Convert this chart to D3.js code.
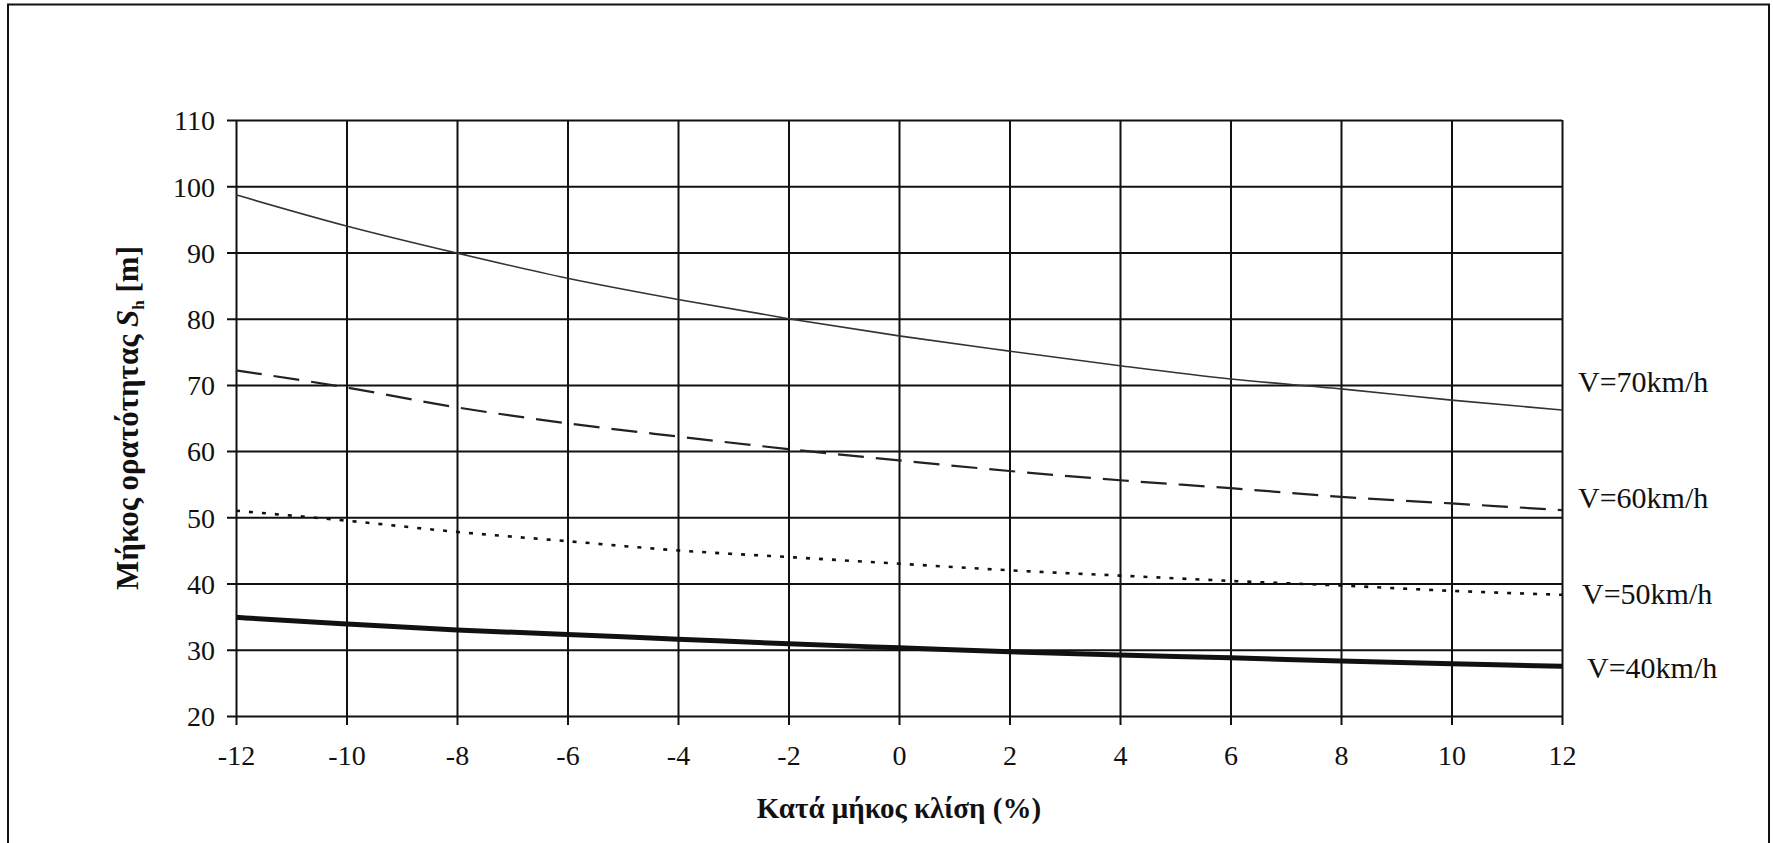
<!DOCTYPE html>
<html>
<head>
<meta charset="utf-8">
<script src="https://cdn.jsdelivr.net/npm/d3@7"></script>
<style>
    html, body { margin: 0; padding: 0; background: #fff; }
    svg { display: block; }
    text { font-family: 'Liberation Serif', 'Times New Roman', serif; fill: #111; }
</style>
</head>
<body>
<div id="chart"></div>
<script>
// Grade (%) and sight distance values
const grades = [-12, -10, -8, -6, -4, -2, 0, 2, 4, 6, 8, 10, 12];
const v70 = [98.7, 94.0, 89.9, 86.1, 82.9, 80.0, 77.4, 75.1, 72.9, 70.9, 69.4, 67.7, 66.2];
const v60 = [72.2, 69.6, 66.6, 64.2, 62.2, 60.3, 58.6, 57.0, 55.6, 54.4, 53.1, 52.1, 51.1];
const v50 = [51.0, 49.5, 47.8, 46.4, 45.0, 44.0, 43.0, 42.0, 41.2, 40.4, 39.7, 38.9, 38.3];
const v40 = [34.9, 33.9, 33.0, 32.3, 31.6, 30.9, 30.3, 29.7, 29.2, 28.8, 28.3, 27.9, 27.5];
const yTicks = [20, 30, 40, 50, 60, 70, 80, 90, 100, 110];
const seriesLabels = ['V=70km/h', 'V=60km/h', 'V=50km/h', 'V=40km/h'];

function renderChart() {
    const width = 1773;
    const height = 843;
    const margin = { top: 120, right: 211, bottom: 127, left: 236 };
    const innerWidth = width - margin.left - margin.right;
    const innerHeight = height - margin.top - margin.bottom;

    const svg = d3.select('#chart')
        .append('svg')
        .attr('width', width)
        .attr('height', height);

    // Outer frame (bottom edge is cut off in the original)
    svg.append('rect')
        .attr('x', 8)
        .attr('y', 4.5)
        .attr('width', 1761)
        .attr('height', 900)
        .attr('fill', 'none')
        .attr('stroke', '#111')
        .attr('stroke-width', 2);

    const g = svg.append('g')
        .attr('transform', `translate(${margin.left}, ${margin.top})`);

    const xScale = d3.scaleLinear()
        .domain([-12, 12])
        .range([0, innerWidth]);

    const yScale = d3.scaleLinear()
        .domain([20, 110])
        .range([innerHeight, 0]);

    // Vertical gridlines + bottom ticks
    const xAxis = g.append('g')
        .attr('transform', `translate(0, ${innerHeight})`)
        .call(d3.axisBottom(xScale)
            .tickValues(grades)
            .tickSizeOuter(0)
            .tickPadding(0)
            .tickFormat(d => String(d)));
    xAxis.select('.domain').remove();
    xAxis.selectAll('.tick line')
        .attr('y1', 9)
        .attr('y2', -innerHeight)
        .attr('stroke', '#111')
        .attr('stroke-width', 2);
    xAxis.selectAll('.tick text')
        .attr('y', 39)
        .attr('dy', '0.35em')
        .style('font-size', '28px')
        .style('font-family', "'Liberation Serif', serif")
        .style('fill', '#111');

    // Horizontal gridlines + left ticks
    const yAxis = g.append('g')
        .call(d3.axisLeft(yScale)
            .tickValues(yTicks)
            .tickSizeOuter(0)
            .tickFormat(d => String(d)));
    yAxis.select('.domain').remove();
    yAxis.selectAll('.tick line')
        .attr('x1', -9)
        .attr('x2', innerWidth)
        .attr('stroke', '#111')
        .attr('stroke-width', 2);
    yAxis.selectAll('.tick text')
        .attr('x', -21)
        .attr('dy', '0.35em')
        .style('font-size', '28px')
        .style('font-family', "'Liberation Serif', serif")
        .style('fill', '#111');

    // Curves
    const line = d3.line()
        .x((d, i) => xScale(grades[i]))
        .y(d => yScale(d))
        .curve(d3.curveMonotoneX);

    const styles = [
        { data: v70, width: 1.6, dash: '', color: '#333' },
        { data: v60, width: 2.2, dash: '26,12', color: '#222' },
        { data: v50, width: 2.6, dash: '4,9', color: '#111' },
        { data: v40, width: 5, dash: '', color: '#111' }
    ];

    styles.forEach(s => {
        g.append('path')
            .datum(s.data)
            .attr('fill', 'none')
            .attr('stroke', s.color)
            .attr('stroke-width', s.width)
            .attr('stroke-dasharray', s.dash)
            .attr('d', line);
    });

    // Series labels to the right of the plot
    const labelPos = [
        { x: 1578, y: 381 },
        { x: 1578, y: 497 },
        { x: 1582, y: 593 },
        { x: 1587, y: 667 }
    ];
    seriesLabels.forEach((label, i) => {
        svg.append('text')
            .attr('x', labelPos[i].x)
            .attr('y', labelPos[i].y)
            .attr('dy', '0.35em')
            .style('font-size', '30px')
            .text(label);
    });

    // X axis title
    svg.append('text')
        .attr('x', margin.left + innerWidth / 2)
        .attr('y', 808)
        .attr('dy', '0.35em')
        .attr('text-anchor', 'middle')
        .style('font-size', '29px')
        .style('font-weight', 'bold')
        .text('Κατά μήκος κλίση (%)');

    // Y axis title with italic S and subscript h
    const yTitle = svg.append('text')
        .attr('transform', `translate(127, ${margin.top + innerHeight / 2}) rotate(-90)`)
        .attr('dy', '0.35em')
        .attr('text-anchor', 'middle')
        .style('font-size', '31px')
        .style('font-weight', 'bold');
    yTitle.append('tspan').text('Μήκος ορατότητας ');
    yTitle.append('tspan').style('font-style', 'italic').text('S');
    yTitle.append('tspan').attr('dy', 6).style('font-size', '17px').text('h');
    yTitle.append('tspan').attr('dy', -6).text(' [m]');
}

renderChart();
</script>
</body>
</html>
